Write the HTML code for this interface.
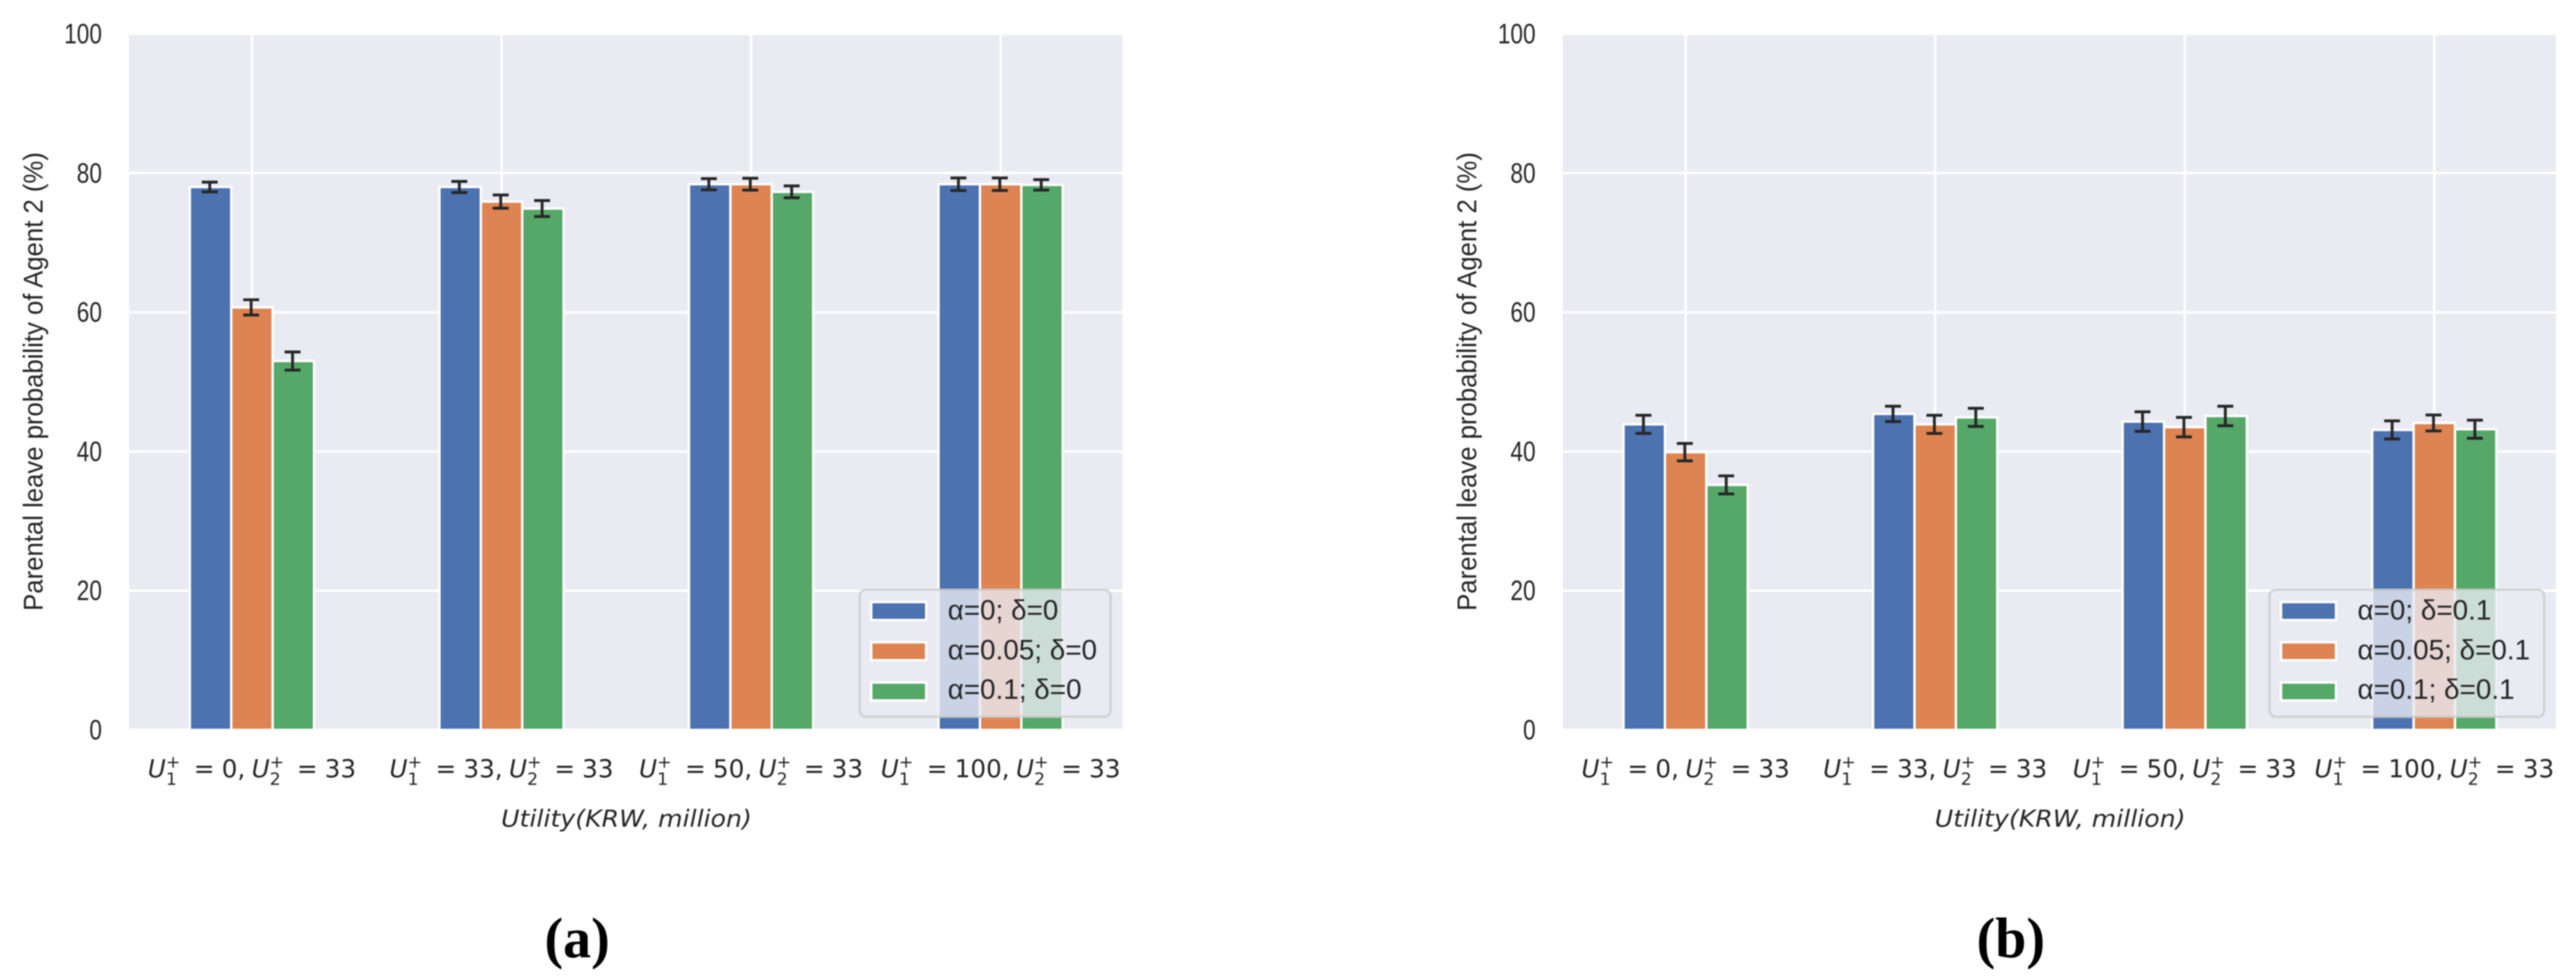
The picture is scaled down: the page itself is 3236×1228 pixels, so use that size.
<!DOCTYPE html>
<html lang="en">
<head>
<meta charset="utf-8">
<title>Parental leave probability of Agent 2</title>
<style>
html,body{margin:0;padding:0;background:#fff;width:3236px;height:1228px;overflow:hidden}
svg{display:block;filter:blur(0.8px)}
text{font-family:"Liberation Sans",Arial,sans-serif;fill:#262626}
.math{font-family:"DejaVu Sans",sans-serif}
.cap{font-family:"Liberation Serif",serif;font-weight:bold;fill:#000}
</style>
</head>
<body>
<svg id="figure" xmlns="http://www.w3.org/2000/svg" width="3236" height="1228" viewBox="0 0 3236 1228">
  <rect x="0" y="0" width="3236" height="1228" fill="#ffffff"></rect>
  <g id="panel-a"></g>
  <g id="panel-b"></g>
  <text class="cap" x="725" y="1202" font-size="72" text-anchor="middle" textLength="82" lengthAdjust="spacingAndGlyphs">(a)</text>
  <text class="cap" x="2526" y="1202" font-size="72" text-anchor="middle" textLength="86" lengthAdjust="spacingAndGlyphs">(b)</text>
</svg>
<script>
// ---- chart data ----
const u1Categories = ["0", "33", "50", "100"];
const u2Categories = ["33", "33", "33", "33"];
const yTickValues = [0, 20, 40, 60, 80, 100];
const yTickLabels = ["0", "20", "40", "60", "80", "100"];
const seriesColors = ["#4c72b0", "#dd8452", "#55a868"];

const panelAAlpha0Values = [78, 78, 78.4, 78.4];
const panelAAlpha005Values = [60.7, 75.9, 78.4, 78.4];
const panelAAlpha01Values = [53, 74.9, 77.3, 78.3];
const panelAAlpha0Errors = [0.7, 0.8, 0.8, 0.9];
const panelAAlpha005Errors = [1.1, 0.95, 0.85, 0.9];
const panelAAlpha01Errors = [1.3, 1.15, 0.85, 0.75];
const panelALegendLabels = ["α=0; δ=0", "α=0.05; δ=0", "α=0.1; δ=0"];

const panelBAlpha0Values = [43.9, 45.4, 44.3, 43.1];
const panelBAlpha005Values = [39.9, 43.9, 43.5, 44.1];
const panelBAlpha01Values = [35.2, 44.9, 45.1, 43.2];
const panelBAlpha0Errors = [1.3, 1.1, 1.4, 1.3];
const panelBAlpha005Errors = [1.25, 1.3, 1.4, 1.15];
const panelBAlpha01Errors = [1.3, 1.3, 1.4, 1.3];
const panelBLegendLabels = ["α=0; δ=0.1", "α=0.05; δ=0.1", "α=0.1; δ=0.1"];

// ---- layout ----
const SVG_NS = "http://www.w3.org/2000/svg";
const axesTop = 42.5;
const axesBottom = 916.5;
const axesWidth = 1248;
const groupStep = 313.5;
const firstGroupOffset = 154.5;
const barWidth = 52;
const mathSize = 31;

function yScale(value) {
  return axesBottom - value * (axesBottom - axesTop) / 100;
}
function groupX(left, groupIndex) {
  return left + firstGroupOffset + groupIndex * groupStep;
}
function barX(left, groupIndex, seriesIndex) {
  return groupX(left, groupIndex) + (seriesIndex - 1.5) * barWidth;
}
function make(tag, parent, attrs, content) {
  const el = document.createElementNS(SVG_NS, tag);
  for (const key in attrs) {
    el.setAttribute(key, attrs[key]);
  }
  if (content !== undefined) {
    el.textContent = content;
  }
  parent.appendChild(el);
  return el;
}

function appendStackedSymbol(textEl, subDigit, dxBefore) {
  const subSize = mathSize * 0.7;
  const subAdvance = subSize * 0.636;
  const letter = make("tspan", textEl, { "font-style": "italic", dx: dxBefore }, "U");
  
  
  const sub = make("tspan", textEl, { "font-size": subSize, dy: 9.5 }, subDigit);
  
  
  const sup = make("tspan", textEl, { "font-size": subSize, dy: -21.5, dx: -subAdvance }, "+");
  
  
}

function drawPanel(group, panelKey, left, seriesValues, seriesErrors, legendLabels, legendWidth) {
  const background = make("rect", group, { x: left, y: axesTop, width: axesWidth, height: axesBottom - axesTop, fill: "#eaeaf2" });
  
  

  // horizontal grid and y ticks
  yTickValues.forEach(function (tick, i) {
    const gridLine = make("line", group, { x1: left, x2: left + axesWidth, y1: yScale(tick), y2: yScale(tick), stroke: "#ffffff", "stroke-width": 3 });
    
    
    const label = yTickLabels[i];
    const tickLabel = make("text", group, {
      x: left - 34,
      y: yScale(tick) + 12,
      "font-size": 35,
      "text-anchor": "end",
      textLength: label.length * 15.8,
      lengthAdjust: "spacingAndGlyphs"
    }, label);
    
    
  });

  // vertical grid and x tick labels
  u1Categories.forEach(function (u1, g) {
    const cx = groupX(left, g);
    const gridLine = make("line", group, { x1: cx, x2: cx, y1: axesTop, y2: axesBottom, stroke: "#ffffff", "stroke-width": 3 });
    
    

    const tick = make("text", group, { class: "math", x: cx, y: 976, "font-size": mathSize, "text-anchor": "middle" });
    
    
    appendStackedSymbol(tick, "1", 0);
    const eqOne = make("tspan", tick, { dy: 12, dx: 17 }, "=");
    
    
    const valueOne = make("tspan", tick, { dx: 9 }, u1 + ",");
    
    
    appendStackedSymbol(tick, "2", 8);
    const eqTwo = make("tspan", tick, { dy: 12, dx: 16 }, "=");
    
    
    const valueTwo = make("tspan", tick, { dx: 9 }, u2Categories[g]);
    
    
  });

  // bars
  seriesValues.forEach(function (values, s) {
    values.forEach(function (value, g) {
      const bar = make("rect", group, {
        x: barX(left, g, s),
        y: yScale(value),
        width: barWidth,
        height: axesBottom - yScale(value),
        fill: seriesColors[s],
        stroke: "#ffffff",
        "stroke-width": 3
      });
      
      
    });
  });

  // error bars
  seriesValues.forEach(function (values, s) {
    values.forEach(function (value, g) {
      const cx = barX(left, g, s) + barWidth / 2 - 1;
      const low = yScale(value - seriesErrors[s][g]);
      const high = yScale(value + seriesErrors[s][g]);
      const stem = make("line", group, { x1: cx, x2: cx, y1: low, y2: high, stroke: "#262626", "stroke-width": 3.6 });
      
      
      [low, high].forEach(function (capY) {
        const cap = make("line", group, { x1: cx - 10, x2: cx + 10, y1: capY, y2: capY, stroke: "#262626", "stroke-width": 3.6 });
        
        
      });
    });
  });

  // axis titles
  const yTitleX = left - 108.4;
  const yTitle = make("text", group, {
    x: yTitleX,
    y: 479,
    "font-size": 34,
    "text-anchor": "middle",
    textLength: 576,
    lengthAdjust: "spacingAndGlyphs",
    transform: "rotate(-90 " + yTitleX + " 479)"
  }, "Parental leave probability of Agent 2 (%)");
  
  

  const xTitle = make("text", group, {
    class: "math",
    x: left + axesWidth / 2 + 1,
    y: 1038,
    "font-size": 29,
    "font-style": "italic",
    "text-anchor": "middle",
    textLength: 315,
    lengthAdjust: "spacingAndGlyphs"
  }, "Utility(KRW, million)");
  
  

  // legend
  const legendLeft = left + 1233 - legendWidth;
  const legend = make("g", group, {});
  
  
  const frame = make("rect", legend, {
    x: legendLeft,
    y: 740.5,
    width: legendWidth,
    height: 159.5,
    rx: 8,
    ry: 8,
    fill: "#eaeaf2",
    "fill-opacity": 0.8,
    stroke: "#cccccc",
    "stroke-opacity": 0.8,
    "stroke-width": 3
  });
  
  
  legendLabels.forEach(function (label, i) {
    const swatch = make("rect", legend, {
      x: legendLeft + 14.5,
      y: 756 + i * 50.5,
      width: 69,
      height: 22.5,
      fill: seriesColors[i],
      stroke: "#ffffff",
      "stroke-width": 3
    });
    
    
    const entry = make("text", legend, { x: legendLeft + 110.5, y: 778 + i * 49.8, "font-size": 35 }, label);
    
    
  });
}

drawPanel(
  document.getElementById("panel-a"), "a", 162,
  [panelAAlpha0Values, panelAAlpha005Values, panelAAlpha01Values],
  [panelAAlpha0Errors, panelAAlpha005Errors, panelAAlpha01Errors],
  panelALegendLabels,
  315
);
drawPanel(
  document.getElementById("panel-b"), "b", 1963,
  [panelBAlpha0Values, panelBAlpha005Values, panelBAlpha01Values],
  [panelBAlpha0Errors, panelBAlpha005Errors, panelBAlpha01Errors],
  panelBLegendLabels,
  345
);
</script>
</body>
</html>
